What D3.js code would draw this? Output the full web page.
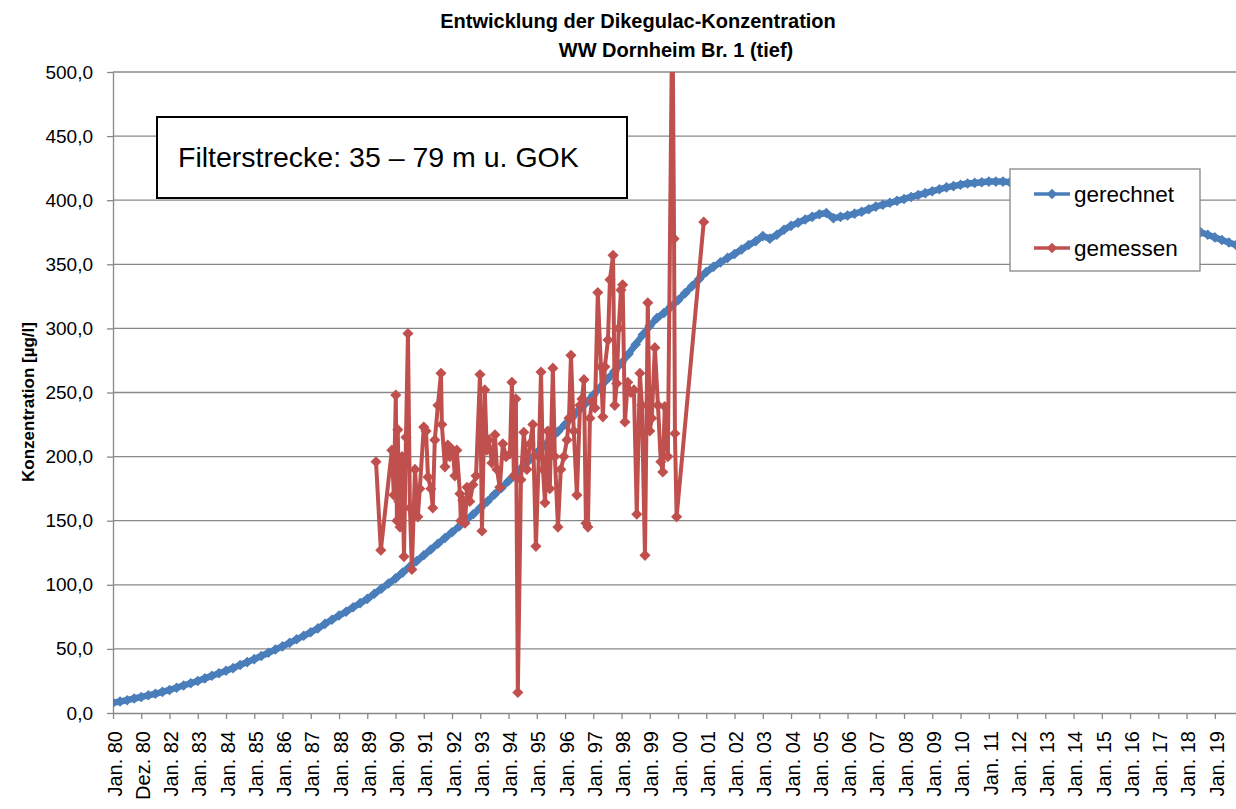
<!DOCTYPE html>
<html>
<head>
<meta charset="utf-8">
<script src="https://cdn.jsdelivr.net/npm/d3@7"></script>
<style>
  body { margin: 0; background: #fff; }
  svg { display: block; font-family: "Liberation Sans", Arial, sans-serif; }
</style>
</head>
<body>
<svg id="chart"></svg>
<script>
// tick labels of the date axis (one per year)
var xLabels = ["Jan. 80", "Dez. 80", "Jan. 82", "Jan. 83", "Jan. 84", "Jan. 85", "Jan. 86", "Jan. 87",
  "Jan. 88", "Jan. 89", "Jan. 90", "Jan. 91", "Jan. 92", "Jan. 93", "Jan. 94", "Jan. 95", "Jan. 96",
  "Jan. 97", "Jan. 98", "Jan. 99", "Jan. 00", "Jan. 01", "Jan. 02", "Jan. 03", "Jan. 04", "Jan. 05",
  "Jan. 06", "Jan. 07", "Jan. 08", "Jan. 09", "Jan. 10", "Jan. 11", "Jan. 12", "Jan. 13", "Jan. 14",
  "Jan. 15", "Jan. 16", "Jan. 17", "Jan. 18", "Jan. 19"];
var xTickYears = d3.range(1980, 2020);
var yTicks = [0, 50, 100, 150, 200, 250, 300, 350, 400, 450, 500];

// "gerechnet" - quarterly values, starting Jan. 1980
var calcValues = [
  8, 9, 10, 11.3,  12.5, 13.8, 15, 16.5,  18, 19.7, 21.5, 23.2,  25, 27, 29, 31,
  33, 35, 37.5, 39.7,  42, 44.5, 47, 49.5,  52, 54.7, 57.5, 60.2,  63, 66, 69.5, 72.7,
  76, 79, 82.5, 85.7,  89, 93, 97, 101,  105, 109.5, 114, 118.5,  123, 127.5, 132, 136.5,
  141, 145.5, 150.5, 155,  160, 165, 170.5, 175.5,  181, 186.5, 192, 197.5,  203, 208.5, 214, 219.5,
  225, 230.5, 236.5, 242,  248, 254, 260.5, 266.5,  273, 280, 287.5, 295,  302, 308, 312, 317,
  322, 327.5, 333, 338.5,  344, 348, 351.5, 355,  358, 361.5, 365, 368,  372, 370, 373, 377,
  380, 382.5, 385, 387,  389, 390, 386, 387,  388, 389.5, 391, 393,  395, 396.5, 398, 399.5,
  401, 402.5, 404, 405.5,  407, 408.5, 410, 411,  412, 413, 413.5, 414,  414.5, 414.5, 414.5, 414,
  414, 413.5, 413, 412,  411, 409.5, 408, 406.5,  405, 403, 401.5, 399.5,  398, 396.5, 395, 393.5,
  392, 390.5, 389, 387.5,  386, 384, 382.5, 380.5,  379, 377, 375, 373,  371, 369, 367, 365
];
var calcDates = d3.range(calcValues.length).map(function(i) { return 1980 + i / 4; });

// "gemessen" - measurements (decimal year, µg/l)
var measDates = [
  1989.31, 1989.48, 1989.87, 1989.94, 1990.01, 1990.05, 1990.08, 1990.12, 1990.16, 1990.23,
  1990.30, 1990.37, 1990.44, 1990.51, 1990.58, 1990.69, 1990.79, 1990.86, 1991.00, 1991.08,
  1991.15, 1991.25, 1991.32, 1991.39, 1991.50, 1991.61, 1991.64, 1991.75, 1991.85, 1991.92,
  1992.03, 1992.10, 1992.17, 1992.28, 1992.31, 1992.38, 1992.46, 1992.53, 1992.63, 1992.74,
  1992.85, 1992.99, 1993.06, 1993.16, 1993.23, 1993.30, 1993.41, 1993.52, 1993.59, 1993.69,
  1993.80, 1993.91, 1994.05, 1994.12, 1994.19, 1994.26, 1994.33, 1994.44, 1994.54, 1994.65,
  1994.76, 1994.86, 1994.97, 1995.07, 1995.15, 1995.22, 1995.29, 1995.39, 1995.46, 1995.57,
  1995.64, 1995.75, 1995.85, 1995.96, 1996.07, 1996.14, 1996.21, 1996.31, 1996.42, 1996.53,
  1996.60, 1996.67, 1996.74, 1996.81, 1996.88, 1996.95, 1997.06, 1997.16, 1997.27, 1997.34,
  1997.41, 1997.52, 1997.59, 1997.70, 1997.76, 1997.83, 1997.90, 1997.98, 1998.04, 1998.12,
  1998.22, 1998.33, 1998.44, 1998.54, 1998.65, 1998.72, 1998.83, 1998.93, 1999.00, 1999.07,
  1999.18, 1999.29, 1999.39, 1999.46, 1999.53, 1999.64, 1999.80, 1999.86, 1999.89, 1999.95,
  2000.91
];
var measValues = [
  196, 127, 205, 170, 248, 150, 221, 165, 145, 200,
  122, 215, 296, 160, 112, 190, 153, 175, 223, 220,
  184, 175, 160, 213, 240, 265, 225, 192, 209, 200,
  205, 185, 205, 171, 150, 166, 148, 176, 165, 178,
  185, 264, 142, 252, 205, 213, 195, 217, 190, 176,
  210, 200, 202, 258, 185, 245, 16, 182, 219, 190,
  210, 225, 130, 200, 266, 190, 164, 220, 175, 269,
  200, 145, 190, 200, 213, 230, 279, 220, 170, 240,
  245, 260, 148, 145, 230, 243, 238, 328, 270, 231,
  270, 291, 338, 357, 240, 257, 300, 330, 334, 227,
  258, 250, 252, 155, 265, 240, 123, 320, 220, 230,
  285, 240, 196, 188, 239, 200, 560, 370, 218, 153,
  383
];

var blue = "#4a7ebb", red = "#c0504d", gridColor = "#888888";
var width = 1236, height = 809;
var plot = { left: 113, right: 1236, top: 72, bottom: 713 };

var svg = d3.select("#chart").attr("width", width).attr("height", height);

var x = d3.scaleLinear().domain([1980, 2019.75]).range([plot.left, plot.right]);
var y = d3.scaleLinear().domain([0, 500]).range([plot.bottom, plot.top]);

svg.append("defs").append("clipPath").attr("id", "plotclip")
  .append("rect")
  .attr("x", plot.left).attr("y", plot.top)
  .attr("width", plot.right - plot.left).attr("height", plot.bottom - plot.top);

// horizontal gridlines
svg.append("g").selectAll("line")
  .data(yTicks.slice(1))
  .enter().append("line")
  .attr("x1", plot.left).attr("x2", plot.right)
  .attr("y1", function(d) { return y(d); })
  .attr("y2", function(d) { return y(d); })
  .attr("stroke", gridColor).attr("stroke-width", 1.3);

// y axis
var yAxis = d3.axisLeft(y).tickValues(yTicks).tickSize(6).tickSizeOuter(0)
  .tickFormat(function(d) { return d3.format(".1f")(d).replace(".", ","); });
var gy = svg.append("g").attr("transform", "translate(" + plot.left + ",0)").call(yAxis);
gy.select(".domain").attr("stroke", gridColor).attr("stroke-width", 1.3);
gy.selectAll(".tick line").attr("stroke", gridColor).attr("stroke-width", 1.3);
gy.selectAll(".tick text").attr("x", -20).attr("font-size", 19)
  .attr("font-family", "Liberation Sans, Arial, sans-serif").attr("fill", "#000");

// x axis
var xAxis = d3.axisBottom(x).tickValues(xTickYears).tickSize(6).tickSizeOuter(0)
  .tickFormat(function(d, i) { return xLabels[i]; });
var gx = svg.append("g").attr("transform", "translate(0," + plot.bottom + ")").call(xAxis);
gx.select(".domain").attr("stroke", gridColor).attr("stroke-width", 1.3);
gx.selectAll(".tick line").attr("stroke", gridColor).attr("stroke-width", 1.3);
gx.selectAll(".tick text")
  .attr("font-size", 20).attr("font-family", "Liberation Sans, Arial, sans-serif").attr("fill", "#000")
  .attr("text-anchor", "end")
  .attr("transform", "translate(1,18) rotate(-90)")
  .attr("x", 0).attr("y", 0).attr("dy", "0.36em");

var series = svg.append("g").attr("clip-path", "url(#plotclip)");

var calcData = calcDates.map(function(d, i) { return [d, calcValues[i]]; });
var measData = measDates.map(function(d, i) { return [d, measValues[i]]; });

var line = d3.line()
  .x(function(d) { return x(d[0]); })
  .y(function(d) { return y(d[1]); });

// diamonds = squares turned by 45 degrees
var blueMark = d3.symbol().type(d3.symbolSquare).size(56)();
var redMark = d3.symbol().type(d3.symbolSquare).size(62)();

// gerechnet
series.append("path").datum(calcData)
  .attr("d", line).attr("fill", "none").attr("stroke", blue).attr("stroke-width", 6.5)
  .attr("stroke-linejoin", "round");
series.append("g").selectAll("path")
  .data(calcData).enter().append("path")
  .attr("d", blueMark)
  .attr("transform", function(d) { return "translate(" + x(d[0]) + "," + y(d[1]) + ") rotate(45)"; })
  .attr("fill", blue);

// gemessen
series.append("path").datum(measData)
  .attr("d", line).attr("fill", "none").attr("stroke", red).attr("stroke-width", 4)
  .attr("stroke-linejoin", "round");
series.append("g").selectAll("path")
  .data(measData).enter().append("path")
  .attr("d", redMark)
  .attr("transform", function(d) { return "translate(" + x(d[0]) + "," + y(d[1]) + ") rotate(45)"; })
  .attr("fill", red);

// title
svg.append("text").attr("x", 638).attr("y", 28).attr("text-anchor", "middle")
  .attr("font-size", 20).attr("font-weight", "bold").text("Entwicklung der Dikegulac-Konzentration");
svg.append("text").attr("x", 676).attr("y", 57).attr("text-anchor", "middle")
  .attr("font-size", 20).attr("font-weight", "bold").text("WW Dornheim Br. 1 (tief)");

// y axis title
svg.append("text").attr("transform", "translate(34,402) rotate(-90)").attr("text-anchor", "middle")
  .attr("font-size", 17).attr("font-weight", "bold").text("Konzentration [µg/l]");

// annotation box
svg.append("rect").attr("x", 157).attr("y", 117).attr("width", 470).attr("height", 81)
  .attr("fill", "#fff").attr("stroke", "#000").attr("stroke-width", 2);
svg.append("text").attr("x", 178).attr("y", 167).attr("font-size", 28.5)
  .text("Filterstrecke: 35 – 79 m u. GOK");

// legend
var legend = svg.append("g");
legend.append("rect").attr("x", 1010).attr("y", 169).attr("width", 190).attr("height", 102)
  .attr("fill", "#fff").attr("stroke", gridColor).attr("stroke-width", 1.3);
var legendItems = [{ name: "gerechnet", color: blue, y: 194 }, { name: "gemessen", color: red, y: 248 }];
legendItems.forEach(function(it) {
  legend.append("line").attr("x1", 1034).attr("x2", 1070).attr("y1", it.y).attr("y2", it.y)
    .attr("stroke", it.color).attr("stroke-width", 3.5);
  legend.append("path").attr("d", blueMark)
    .attr("transform", "translate(1052," + it.y + ") rotate(45)").attr("fill", it.color);
  legend.append("text").attr("x", 1074).attr("y", it.y).attr("dy", "0.35em")
    .attr("font-size", 22.5).text(it.name);
});
</script>
</body>
</html>
